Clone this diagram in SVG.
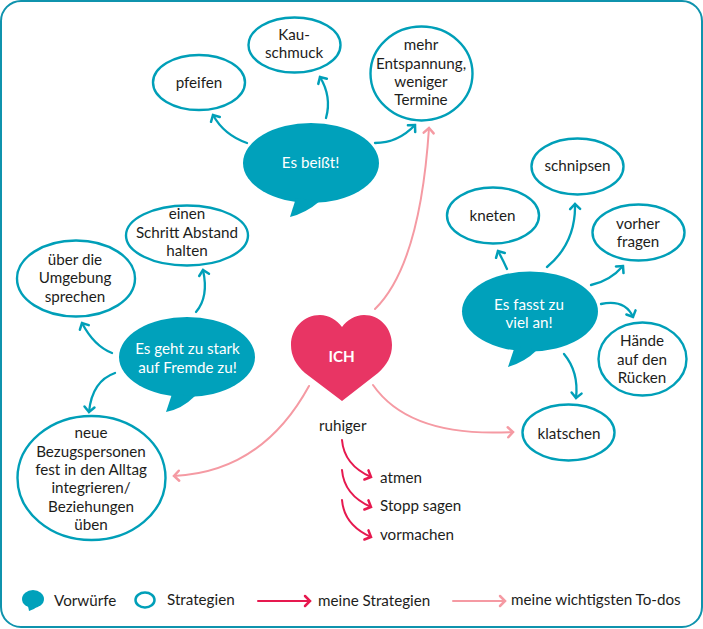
<svg xmlns="http://www.w3.org/2000/svg" width="703" height="629" viewBox="0 0 703 629">
<style>
text{font-family:Lato,"Liberation Sans",sans-serif;font-size:15.2px;fill:#1d1d1b;text-anchor:middle}
.w{fill:#fff}
.l{text-anchor:start}
.s{fill:#fff;stroke:#009fb8;stroke-width:2.4}
.b{fill:#00a1bb}
.c{fill:none;stroke-width:2;stroke-linecap:round}
.t{stroke:#009fb8;stroke-width:2.3;marker-end:url(#ht)}
.p{stroke:#f59aa3;marker-end:url(#hp)}
.r{stroke:#e6194f;marker-end:url(#hr)}
</style>
<defs>
<marker id="ht" markerUnits="userSpaceOnUse" markerWidth="14" markerHeight="14" refX="10" refY="7" orient="auto"><path d="M5 2L10 7L5 12" fill="none" stroke="#009fb8" stroke-width="2.500" stroke-linecap="round"/></marker>
<marker id="hp" markerUnits="userSpaceOnUse" markerWidth="14" markerHeight="14" refX="10" refY="7" orient="auto"><path d="M5 2L10 7L5 12" fill="none" stroke="#f59aa3" stroke-width="2.500" stroke-linecap="round"/></marker>
<marker id="hr" markerUnits="userSpaceOnUse" markerWidth="14" markerHeight="14" refX="10" refY="7" orient="auto"><path d="M5 2L10 7L5 12" fill="none" stroke="#e6194f" stroke-width="2.500" stroke-linecap="round"/></marker>
</defs>
<rect x="1" y="1" width="701" height="626" rx="20" fill="#fff" stroke="#0f93ad" stroke-width="2"/>
<g id="connectors">
<path class="c t" d="M247 143Q224 135 213 115"/>
<path class="c t" d="M326 118Q332 97 320 77"/>
<path class="c t" d="M375 143Q398 143 415 125"/>
<path class="c t" d="M196 312Q209 297 203 270"/>
<path class="c t" d="M112 353Q94 346 82 323"/>
<path class="c t" d="M115 373Q92 381 89 412"/>
<path class="c t" d="M547 267Q576 243 575 204"/>
<path class="c t" d="M507 269Q503 260 498 251"/>
<path class="c t" d="M591 285Q610 281 623 266"/>
<path class="c t" d="M601 304Q625 299 633 317"/>
<path class="c t" d="M564 354Q579 372 576 398"/>
<path class="c p" d="M375 309Q420 265 429 128"/>
<path class="c p" d="M309 386Q262 472 174 476"/>
<path class="c p" d="M373 385Q410 438 513 432"/>
<path class="c r" d="M342 440Q344 465 371 477"/>
<path class="c r" d="M342 470Q344 495 371 507"/>
<path class="c r" d="M342 500Q344 525 371 537"/>
</g>
<g id="beisst"><ellipse class="b" cx="311" cy="163" rx="68" ry="40"/><path class="b" d="M296 198L290 217Q306 213 320 201Z"/><text class="w" x="310.500" y="168">Es beißt!</text></g>
<g id="pfeifen"><ellipse class="s" cx="199" cy="82.500" rx="46" ry="27.500"/><text x="199" y="88">pfeifen</text></g>
<g id="kauschmuck"><ellipse class="s" cx="294.500" cy="45" rx="46" ry="27.500"/><text x="294" y="40">Kau-</text><text x="294" y="58">schmuck</text></g>
<g id="entspannung"><ellipse class="s" cx="421.500" cy="73.500" rx="51" ry="47"/><text x="421" y="50">mehr</text><text x="421" y="68.500">Entspannung,</text><text x="421" y="86.500">weniger</text><text x="421" y="105">Termine</text></g>
<g id="fremde"><ellipse class="b" cx="187" cy="357" rx="68" ry="40"/><path class="b" d="M172 394L166 412Q182 409 195 396Z"/><text class="w" x="187.500" y="354">Es geht zu stark</text><text class="w" x="187.500" y="372.500">auf Fremde zu!</text></g>
<g id="abstand"><ellipse class="s" cx="187" cy="235.500" rx="61" ry="30"/><text x="187" y="219">einen</text><text x="187" y="237.500">Schritt Abstand</text><text x="187" y="256">halten</text></g>
<g id="umgebung"><ellipse class="s" cx="76" cy="278.500" rx="59" ry="38"/><text x="75" y="265">über die</text><text x="75" y="283">Umgebung</text><text x="75" y="302">sprechen</text></g>
<g id="bezugspersonen"><ellipse class="s" cx="91.500" cy="478" rx="74" ry="62"/><text x="91" y="438">neue</text><text x="91" y="456.500">Bezugspersonen</text><text x="91" y="475">fest in den Alltag</text><text x="91" y="493">integrieren/</text><text x="91" y="512">Beziehungen</text><text x="91" y="530">üben</text></g>
<g id="fasst"><ellipse class="b" cx="530" cy="311.500" rx="68" ry="40"/><path class="b" d="M515 346L508 367Q525 362 537 350Z"/><text class="w" x="529" y="310">Es fasst zu</text><text class="w" x="529" y="328">viel an!</text></g>
<g id="schnipsen"><ellipse class="s" cx="577.500" cy="166.500" rx="46" ry="28"/><text x="577.500" y="171">schnipsen</text></g>
<g id="kneten"><ellipse class="s" cx="493" cy="215.500" rx="46" ry="28"/><text x="492.500" y="220.500">kneten</text></g>
<g id="vorher"><ellipse class="s" cx="638.500" cy="232.500" rx="46" ry="28"/><text x="638" y="228.500">vorher</text><text x="638" y="247">fragen</text></g>
<g id="haende"><ellipse class="s" cx="642.500" cy="359" rx="44" ry="36.500"/><text x="642" y="346">Hände</text><text x="642" y="364.500">auf den</text><text x="642" y="383">Rücken</text></g>
<g id="klatschen"><ellipse class="s" cx="568.500" cy="432.500" rx="46" ry="28"/><text x="569" y="439">klatschen</text></g>
<g id="ich"><path d="M342 401L305 373C296 365 291 356 291 345C291 328 304 315 320 315C329 315 337 320 342 327C347 320 355 315 364 315C380 315 392 328 392 345C392 356 387 365 378 373Z" fill="#e83564"/><text class="w" x="341.700" y="362" font-weight="700">ICH</text></g>
<g id="ruhiger"><text x="342.700" y="431">ruhiger</text><text class="l" x="380" y="482.500">atmen</text><text class="l" x="380" y="511">Stopp sagen</text><text class="l" x="380" y="540">vormachen</text></g>
<g id="legend">
<ellipse class="b" cx="33" cy="599" rx="11" ry="9"/><path class="b" d="M28 606L29 611Q35 609 38 606Z"/>
<text class="l" x="54" y="606">Vorwürfe</text>
<ellipse cx="145" cy="600" rx="9.500" ry="7.500" fill="#fff" stroke="#009fb8" stroke-width="2.500"/>
<text class="l" x="167" y="605">Strategien</text>
<path class="c r" d="M258 601H310"/>
<text class="l" x="318" y="606">meine Strategien</text>
<path class="c p" d="M453 601H505"/>
<text class="l" x="511" y="605">meine wichtigsten To-dos</text>
</g>
</svg>
